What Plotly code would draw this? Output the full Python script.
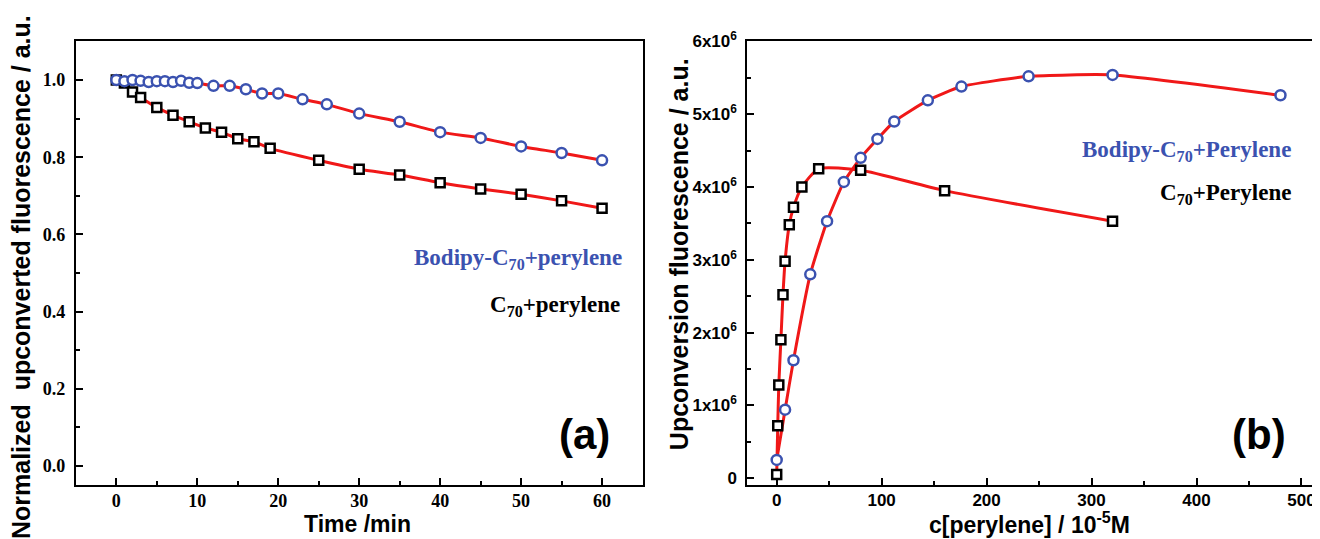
import plotly.graph_objects as go

# The page body has an 8px default margin, so the figure is drawn 8px in from the top-left;
# size it to fill the rest of the 1320x539 window and place everything in window pixels.
OFF = 8
W, H = 1320 - OFF, 539 - OFF


def px(x):
    return (x - OFF) / W


def py(y):
    return 1 - (y - OFF) / H


# ---------------- Panel (a): photostability ----------------
time_bodipy = [0, 1, 2, 3, 4, 5, 6, 7, 8, 9, 10, 12, 14, 16, 18, 20, 23, 26, 30, 35, 40, 45, 50, 55, 60]
fluo_bodipy = [1.0, 0.997, 1.0, 0.998, 0.995, 0.997, 0.997, 0.995, 0.998, 0.993, 0.992, 0.985, 0.985,
               0.976, 0.965, 0.965, 0.95, 0.937, 0.913, 0.892, 0.865, 0.85, 0.828, 0.811, 0.792]
time_c70 = [0, 1, 2, 3, 5, 7, 9, 11, 13, 15, 17, 19, 25, 30, 35, 40, 45, 50, 55, 60]
fluo_c70 = [1.0, 0.992, 0.969, 0.955, 0.929, 0.909, 0.892, 0.876, 0.865, 0.848, 0.84, 0.823,
            0.792, 0.769, 0.754, 0.734, 0.718, 0.704, 0.687, 0.668]

# ---------------- Panel (b): concentration dependence ----------------
conc_bodipy = [0, 8, 16, 32, 48, 64, 80, 96, 112, 144, 176, 240, 320, 480]
upc_bodipy = [0.25e6, 0.94e6, 1.62e6, 2.80e6, 3.53e6, 4.07e6, 4.40e6, 4.66e6, 4.90e6, 5.19e6,
              5.38e6, 5.52e6, 5.54e6, 5.26e6]
conc_c70 = [0, 1, 2, 4, 6, 8, 12, 16, 24, 40, 80, 160, 320]
upc_c70 = [0.05e6, 0.72e6, 1.28e6, 1.90e6, 2.52e6, 2.98e6, 3.48e6, 3.72e6, 4.0e6, 4.25e6,
           4.23e6, 3.95e6, 3.53e6]

a_xticks = [0, 10, 20, 30, 40, 50, 60]
a_yticks = [0.0, 0.2, 0.4, 0.6, 0.8, 1.0]
b_xticks = [0, 100, 200, 300, 400, 500]
b_yticks = [0, 1e6, 2e6, 3e6, 4e6, 5e6, 6e6]
b_yticktext = ["0"] + [f"{i}x10<sup>6</sup>" for i in range(1, 7)]

RED = "#f01818"
BLUE = "#3b52b0"

fig = go.Figure()

# red connecting lines first
for xs, ys, xa, ya, sm in [(time_bodipy, fluo_bodipy, "x", "y", 0.6), (time_c70, fluo_c70, "x", "y", 0.6),
                           (conc_bodipy, upc_bodipy, "x2", "y2", 0.5), (conc_c70, upc_c70, "x2", "y2", 0.6)]:
    fig.add_trace(go.Scatter(x=xs, y=ys, xaxis=xa, yaxis=ya, mode="lines",
                             line=dict(color=RED, width=3, shape="spline", smoothing=sm),
                             showlegend=False, hoverinfo="skip"))

# markers
sq = dict(symbol="square", size=9, color="white", line=dict(color="black", width=2.5))
ci = dict(symbol="circle", size=10, color="white", line=dict(color=BLUE, width=2.5))
fig.add_trace(go.Scatter(x=time_c70, y=fluo_c70, xaxis="x", yaxis="y", mode="markers",
                         marker=sq, showlegend=False))
fig.add_trace(go.Scatter(x=time_bodipy, y=fluo_bodipy, xaxis="x", yaxis="y", mode="markers",
                         marker=ci, showlegend=False))
fig.add_trace(go.Scatter(x=conc_c70, y=upc_c70, xaxis="x2", yaxis="y2", mode="markers",
                         marker=sq, showlegend=False))
fig.add_trace(go.Scatter(x=conc_bodipy, y=upc_bodipy, xaxis="x2", yaxis="y2", mode="markers",
                         marker=ci, showlegend=False))

serif_tick = dict(family="Liberation Serif", size=18, color="black", weight="bold")
sans_tick = dict(family="Liberation Sans", size=17, color="black", weight="bold")

common = dict(showline=True, linecolor="black", linewidth=2, mirror=True, showgrid=False,
              zeroline=False, ticks="inside", ticklen=7, tickwidth=1.5, tickcolor="black")

ydom = [py(486), py(30)]


def minor(step):
    return dict(dtick=step, tick0=0, ticks="inside", ticklen=4, tickwidth=1.5,
                tickcolor="black", showgrid=False)


fig.update_layout(
    width=W, height=H, margin=dict(l=0, r=0, t=0, b=0),
    paper_bgcolor="white", plot_bgcolor="white", showlegend=False,
    xaxis=dict(domain=[px(76), px(644)], range=[-5, 65], anchor="y",
               tickvals=a_xticks, tickfont=serif_tick, minor=minor(5),
               ticklabelstandoff=-2, **common),
    yaxis=dict(domain=ydom, range=[-0.05, 1.1], anchor="x",
               tickvals=a_yticks, ticktext=[f"{v:.1f}" for v in a_yticks], tickfont=serif_tick,
               minor=minor(0.1), ticklabelstandoff=5, **common),
    xaxis2=dict(domain=[px(749), px(1316)], range=[-28, 511], anchor="y2",
                tickvals=b_xticks, tickfont=sans_tick, minor=minor(50),
                ticklabelstandoff=-2, **common),
    yaxis2=dict(domain=ydom, range=[-0.1e6, 6e6], anchor="x2",
                tickvals=b_yticks, ticktext=b_yticktext, tickfont=sans_tick,
                minor=minor(0.5e6), ticklabelstandoff=5, **common),
)

title_font = dict(family="Liberation Sans", size=23, color="black", weight="bold")
ytitle_font = dict(family="Liberation Sans", size=25, color="black", weight="bold")
legend_font_blue = dict(family="Liberation Serif", size=23, color=BLUE, weight="bold")
legend_font_black = dict(family="Liberation Serif", size=23, color="black", weight="bold")
panel_font = dict(family="Liberation Sans", size=42, color="black", weight="bold")

annotations = [
    dict(text="Normalized  upconverted fluorescence / a.u.", x=px(21), y=py(272), textangle=-90,
         font=ytitle_font, xanchor="center", yanchor="middle"),
    dict(text="Time /min", x=px(358), y=py(526), font=title_font, xanchor="center", yanchor="middle"),
    dict(text="Upconversion fluorescence / a.u.", x=px(680), y=py(248), textangle=-90,
         font=ytitle_font, xanchor="center", yanchor="middle"),
    dict(text="c[perylene] / 10<sup>-5</sup>M", x=px(1032), y=py(525), font=title_font,
         xanchor="center", yanchor="middle"),
    dict(text="Bodipy-C<sub>70</sub>+perylene", x=px(625), y=py(253), font=legend_font_blue,
         xanchor="right", yanchor="middle"),
    dict(text="C<sub>70</sub>+perylene", x=px(623), y=py(302), font=legend_font_black,
         xanchor="right", yanchor="middle"),
    dict(text="Bodipy-C<sub>70</sub>+Perylene", x=px(1296), y=py(143), font=legend_font_blue,
         xanchor="right", yanchor="middle"),
    dict(text="C<sub>70</sub>+Perylene", x=px(1296), y=py(187), font=legend_font_black,
         xanchor="right", yanchor="middle"),
    dict(text="(a)", x=px(586), y=py(434), font=panel_font, xanchor="center", yanchor="middle"),
    dict(text="(b)", x=px(1262), y=py(434), font=panel_font, xanchor="center", yanchor="middle"),
]
for a in annotations:
    a.update(xref="paper", yref="paper", showarrow=False)
fig.update_layout(annotations=annotations)

fig.write_html("out.html")
